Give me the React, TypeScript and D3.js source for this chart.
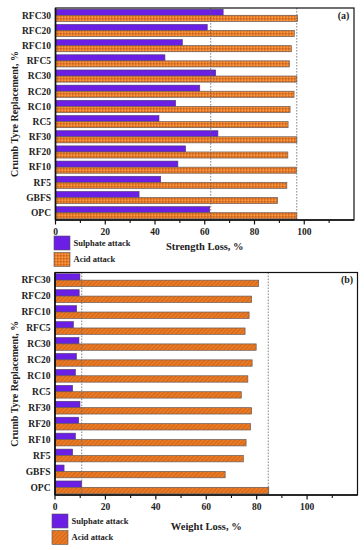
import React from 'react';
import * as d3 from 'd3';

const categories = ['RFC30', 'RFC20', 'RFC10', 'RFC5', 'RC30', 'RC20', 'RC10', 'RC5', 'RF30', 'RF20', 'RF10', 'RF5', 'GBFS', 'OPC'];

const strengthSulphate = [67.4, 61, 51, 44, 64.4, 58, 48.3, 41.6, 65.3, 52.3, 49.2, 42.3, 33.6, 62];
const strengthAcid = [97.3, 96, 94.8, 94, 97, 95.9, 94.3, 93.5, 97, 93.4, 96.8, 93, 89.2, 97];
const strengthRefs = [62.4, 97];

const weightSulphate = [9.9, 9.6, 8.6, 7.3, 9.5, 8.5, 8.1, 7, 9.9, 9.4, 8.1, 7, 3.6, 10.6];
const weightAcid = [80.8, 78, 77, 75.4, 79.8, 78.2, 76.5, 73.9, 78, 77.6, 75.8, 74.7, 67.5, 84.8];
const weightRefs = [10.6, 84.6];

const majorTicks = [0, 20, 40, 60, 80, 100];
const minorTicks = [10, 30, 50, 70, 90, 110];
const seriesNames = ['Sulphate attack', 'Acid attack'];

const FONT = '"Liberation Serif", "Times New Roman", serif';
const PURPLE = '#6b1ee4';
const ORANGE = '#ec7a22';

type PanelProps = {
  tag: string;
  xTitle: string;
  sulphate: number[];
  acid: number[];
  refs: number[];
  left: number;
  right: number;
  top: number;
  bottom: number;
  legendX: number;
  legendY: number;
  titleY: number;
  fill: string;
};

function Panel(p: PanelProps) {
  const x = d3.scaleLinear([0, 120], [p.left, p.right]);
  const y = d3.scaleBand(categories, [p.top, p.bottom]).paddingInner(0.2).paddingOuter(0.08);
  const h = y.bandwidth() / 2;
  const midY = (p.top + p.bottom) / 2;
  const midX = (p.left + p.right) / 2;

  return (
    <g fontFamily={FONT} fontWeight="bold">
      {categories.map((c, i) => (
        <g key={c}>
          <rect x={x(0)} y={y(c)!} width={x(p.sulphate[i]) - x(0)} height={h}
            fill={PURPLE} stroke="#4a3a6a" strokeWidth={0.6} />
          <rect x={x(0)} y={y(c)! + h} width={x(p.acid[i]) - x(0)} height={h}
            fill={p.fill} stroke="#6a5a55" strokeWidth={0.7} />
          <text x={p.left - 4.5} y={y(c)! + y.bandwidth() / 2} dy="0.35em"
            textAnchor="end" fontSize={9.5} fill="#222">{c}</text>
        </g>
      ))}

      {p.refs.map(r => (
        <line key={r} x1={x(r)} x2={x(r)} y1={p.top} y2={p.bottom}
          stroke="#666" strokeWidth={0.8} strokeDasharray="1.6,1.4" />
      ))}

      <rect x={p.left} y={p.top} width={p.right - p.left} height={p.bottom - p.top}
        fill="none" stroke="#111" strokeWidth={1.2} />
      <line x1={p.left} x2={p.left} y1={p.top} y2={p.bottom} stroke="#111" strokeWidth={1.6} />
      <line x1={p.left} x2={p.right} y1={p.bottom} y2={p.bottom} stroke="#111" strokeWidth={1.6} />

      {majorTicks.map(t => (
        <g key={t}>
          <line x1={x(t)} x2={x(t)} y1={p.bottom} y2={p.bottom + 4.5} stroke="#111" strokeWidth={1.2} />
          <text x={x(t)} y={p.bottom + 14.5} textAnchor="middle" fontSize={9.5} fill="#222">{t}</text>
        </g>
      ))}
      {minorTicks.map(t => (
        <line key={t} x1={x(t)} x2={x(t)} y1={p.bottom} y2={p.bottom + 3} stroke="#111" strokeWidth={1.1} />
      ))}

      <text x={midX} y={p.titleY} textAnchor="middle" fontSize={10.5} fill="#222">{p.xTitle}</text>
      <text transform={`translate(18,${midY}) rotate(-90)`} textAnchor="middle" fontSize={10} fill="#222">
        Crumb Tyre Replacement, %
      </text>
      <text x={p.right - 10.5} y={p.top + 10.5} textAnchor="middle" fontSize={10} fill="#222">{p.tag}</text>

      {seriesNames.map((s, i) => (
        <g key={s}>
          <rect x={p.legendX} y={p.legendY + i * 16.5} width={16} height={14}
            fill={i === 0 ? PURPLE : p.fill} stroke="#555" strokeWidth={0.6} />
          <text x={p.legendX + 19.5} y={p.legendY + i * 16.5 + 7} dy="0.35em"
            fontSize={8.5} fill="#222">{s}</text>
        </g>
      ))}
    </g>
  );
}

export default function App() {
  return (
    <svg width={364} height={550} style={{ position: 'absolute', left: 0, top: 0, background: '#fff' }}>
      <defs>
        <pattern id="checker" width={3} height={3} patternUnits="userSpaceOnUse">
          <rect width={3} height={3} fill={ORANGE} />
          <rect width={1.5} height={1.5} fill="#b8602a" opacity={0.8} />
          <rect x={1.5} y={1.5} width={1.5} height={1.5} fill="#f59a45" />
        </pattern>
        <pattern id="hatch" width={3} height={3} patternUnits="userSpaceOnUse" patternTransform="rotate(45)">
          <rect width={3} height={3} fill={ORANGE} />
          <line x1={0} x2={0} y1={0} y2={3} stroke="#c0601f" strokeWidth={1.4} />
        </pattern>
      </defs>
      <Panel tag="(a)" xTitle="Strength Loss, %" sulphate={strengthSulphate} acid={strengthAcid}
        refs={strengthRefs} left={55.5} right={354} top={8} bottom={220}
        legendX={54} legendY={236} titleY={249.5} fill="url(#checker)" />
      <Panel tag="(b)" xTitle="Weight Loss, %" sulphate={weightSulphate} acid={weightAcid}
        refs={weightRefs} left={55} right={357.5} top={272.5} bottom={495}
        legendX={52} legendY={514} titleY={530} fill="url(#hatch)" />
    </svg>
  );
}
